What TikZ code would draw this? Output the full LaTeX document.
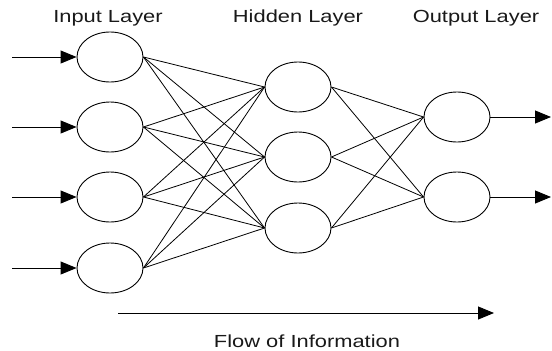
\documentclass[tikz,border=0pt]{standalone}
\usepackage{fontspec}
\setmainfont{Liberation Sans}[FakeStretch=1.25]
\usetikzlibrary{shapes.geometric,arrows.meta}
\begin{document}
\begin{tikzpicture}[x=1pt,y=-1pt,
		neuron/.style={draw,ellipse,minimum width=66pt,minimum height=50pt,inner sep=0pt,line width=.9pt},
		link/.style={line width=.8pt},
		bigarrow/.style={line width=.9pt,-{Triangle[length=16pt,width=13pt]}},
		caption/.style={font=\fontsize{17.5pt}{20pt}\selectfont,text=black!90}]
		\useasboundingbox (0,0) rectangle (552,351);
		% layers
		\foreach \n/\y in {1/57,2/127,3/197,4/268}
			\node[neuron] (in\n) at (110,\y) {};
		\foreach \n/\y in {1/87,2/157,3/228}
			\node[neuron] (hid\n) at (298,\y) {};
		\foreach \n/\y in {1/117,2/197}
			\node[neuron] (out\n) at (457,\y) {};
		% weights
		\foreach \i in {1,...,4}
			\foreach \j in {1,2,3}
				\draw[link] (in\i.east) -- (hid\j.west);
		\foreach \j in {1,2,3}
			\foreach \k in {1,2}
				\draw[link] (hid\j.east) -- (out\k.west);
		% inputs and outputs
		\foreach \n/\y in {1/57,2/127,3/197,4/268} {
			\coordinate (src\n) at (12,\y);
			\draw[bigarrow] (src\n) -- (in\n.west);
		}
		\foreach \k/\y in {1/117,2/197} {
			\coordinate (dst\k) at (551,\y);
			\draw[bigarrow] (out\k.east) -- (dst\k);
		}
		% labels
		\node[caption] (inlabel) at (108,18) {Input Layer};
		\node[caption] (hidlabel) at (298,18) {Hidden Layer};
		\node[caption] (outlabel) at (476,18) {Output Layer};
		\coordinate (flowa) at (118,313);
		\coordinate (flowb) at (494,313);
		\draw[bigarrow] (flowa) -- (flowb);
		\node[caption] (flowlabel) at (307,341) {Flow of Information};
	\end{tikzpicture}
\end{document}
